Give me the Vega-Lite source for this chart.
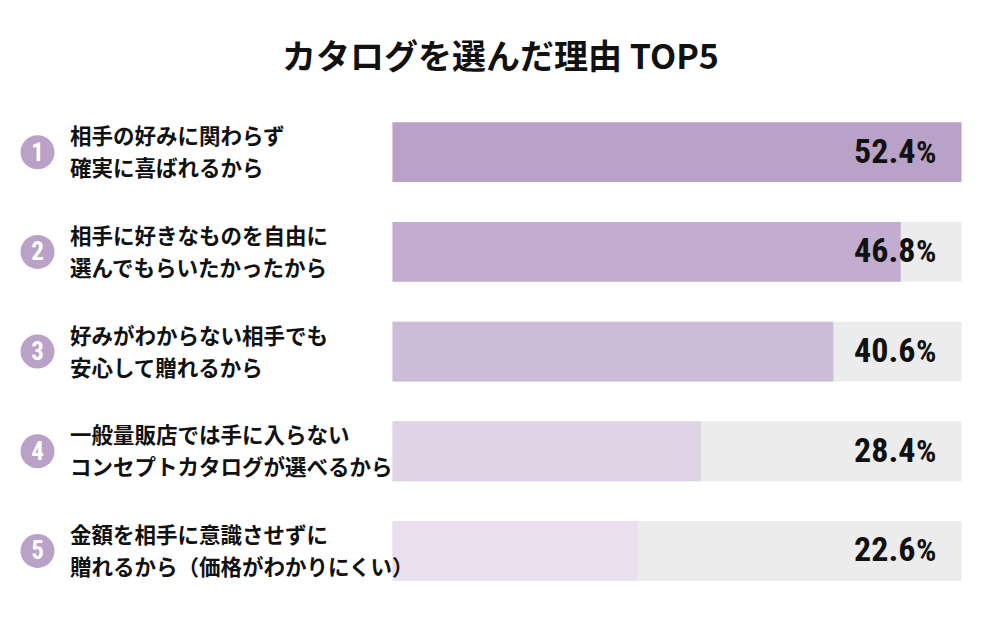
{
  "$schema": "https://vega.github.io/schema/vega-lite/v6.json",
  "autosize": {"type": "none"},
  "width": 569,
  "height": 458.5,
  "padding": {"left": 392.5, "top": 122.3, "right": 38.5, "bottom": 38.2},
  "background": "#ffffff",
  "config": {"view": {"stroke": null}},
  "title": {
    "text": "カタログを選んだ理由 TOP5",
    "font": "Noto Sans CJK JP",
    "fontSize": 34,
    "fontWeight": "bold",
    "color": "#111111",
    "anchor": "middle",
    "frame": "group",
    "baseline": "bottom",
    "offset": 12,
    "dx": -176.5
  },
  "data": {
    "values": [
      {"rank": 1, "reason": "相手の好みに関わらず\n確実に喜ばれるから", "value": 52.4},
      {"rank": 2, "reason": "相手に好きなものを自由に\n選んでもらいたかったから", "value": 46.8},
      {"rank": 3, "reason": "好みがわからない相手でも\n安心して贈れるから", "value": 40.6},
      {"rank": 4, "reason": "一般量販店では手に入らない\nコンセプトカタログが選べるから", "value": 28.4},
      {"rank": 5, "reason": "金額を相手に意識させずに\n贈れるから（価格がわかりにくい）", "value": 22.6}
    ]
  },
  "encoding": {
    "y": {
      "field": "rank",
      "type": "ordinal",
      "axis": null,
      "scale": {"paddingInner": 0.4, "paddingOuter": 0}
    }
  },
  "layer": [
    {
      "mark": {"type": "bar", "color": "#ececec", "cornerRadius": 0},
      "encoding": {
        "x": {"datum": 0, "type": "quantitative", "scale": {"domain": [0, 52.4], "nice": false}, "axis": null},
        "x2": {"datum": 52.4}
      }
    },
    {
      "mark": {"type": "bar"},
      "encoding": {
        "x": {"field": "value", "type": "quantitative"},
        "x2": {"datum": 0},
        "color": {
          "field": "rank",
          "type": "ordinal",
          "legend": null,
          "scale": {"range": ["#b9a1c7", "#c2accf", "#cdbcd8", "#e0d3e6", "#e9dfee"]}
        }
      }
    },
    {
      "mark": {"type": "point", "shape": "circle", "filled": true, "size": 1156, "color": "#b9a1c7", "opacity": 1},
      "encoding": {"x": {"datum": -32.69, "type": "quantitative"}}
    },
    {
      "mark": {"type": "text", "dx": -355, "dy": 0.5, "align": "center", "baseline": "middle", "font": "Roboto Condensed, Roboto, sans-serif", "fontWeight": "bold", "fontSize": 25, "color": "#ffffff"},
      "encoding": {"x": {"datum": 0, "type": "quantitative"}, "text": {"field": "rank"}}
    },
    {
      "mark": {"type": "text", "dx": -322.5, "dy": -14, "align": "left", "baseline": "middle", "lineBreak": "\n", "lineHeight": 32, "font": "Noto Sans CJK JP", "fontWeight": "bold", "fontSize": 21.5, "color": "#111111"},
      "encoding": {"x": {"datum": 0, "type": "quantitative"}, "text": {"field": "reason"}}
    },
    {
      "mark": {"type": "text", "dx": -46, "dy": 0.5, "align": "right", "baseline": "middle", "font": "Roboto Condensed, Roboto, sans-serif", "fontWeight": "bold", "fontSize": 34, "color": "#111111"},
      "encoding": {"x": {"datum": 52.4, "type": "quantitative"}, "text": {"field": "value", "format": ".1f"}}
    },
    {
      "mark": {"type": "text", "text": "%", "dx": -45.5, "dy": 0.5, "align": "left", "baseline": "middle", "font": "Roboto Condensed, Roboto, sans-serif", "fontWeight": "bold", "fontSize": 32, "color": "#111111"},
      "encoding": {"x": {"datum": 52.4, "type": "quantitative"}}
    }
  ]
}
